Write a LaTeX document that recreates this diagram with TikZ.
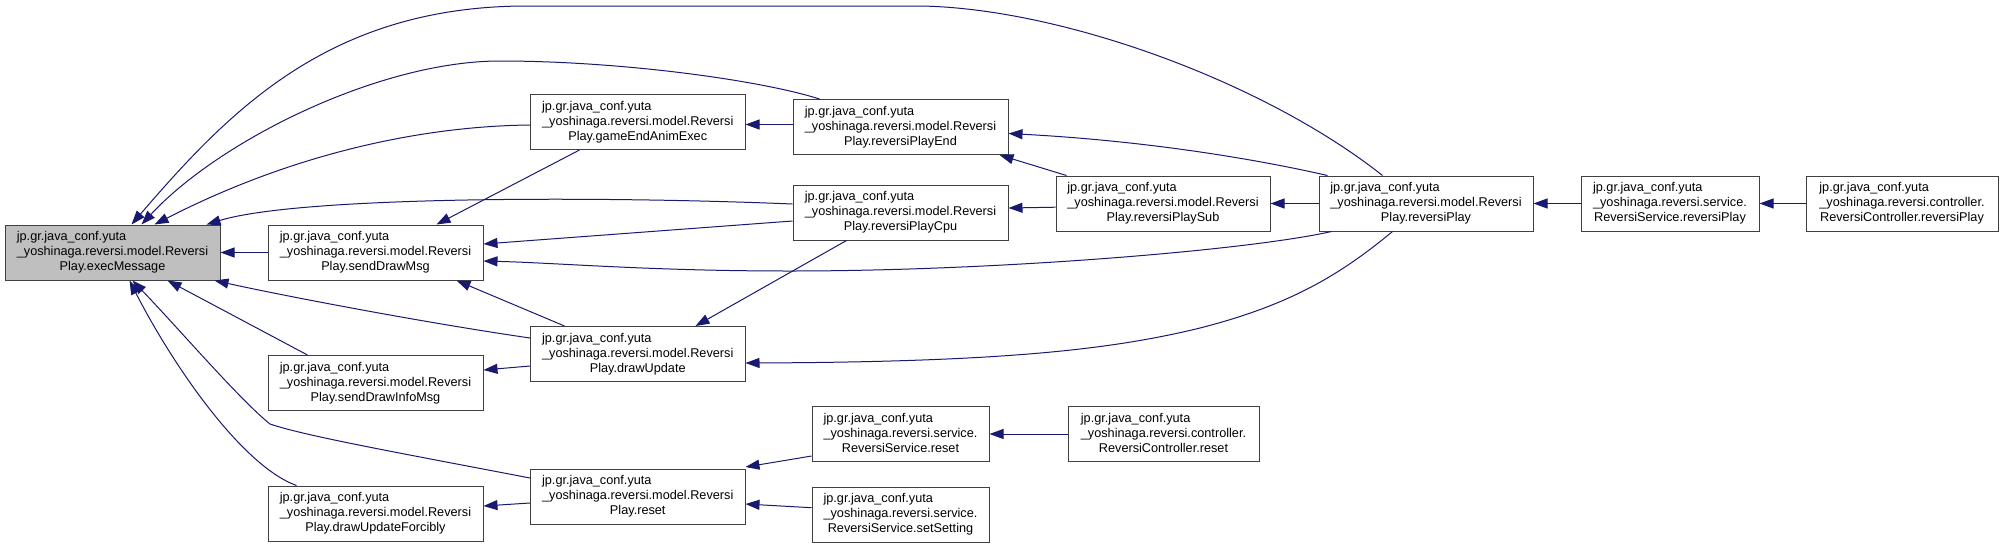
\documentclass[tikz,border=0pt]{standalone}
\usepackage{fontspec}
\setmainfont{Liberation Sans}
\usetikzlibrary{arrows.meta,calc}
\definecolor{edgecol}{HTML}{191970}
\definecolor{boxgray}{HTML}{BFBFBF}
\definecolor{boxline}{HTML}{404040}
\newcommand{\mylbl}[2]{\begin{tabular}{@{}l@{}}jp.gr.java\_conf.yuta\\\_yoshinaga.reversi.#1\\\multicolumn{1}{@{}c@{}}{#2}\end{tabular}}
\tikzset{
  fn/.style={draw=boxline, line width=1pt, fill=white, minimum height=55pt, inner sep=0pt,
    font=\fontsize{12.7}{15}\selectfont},
  edge/.style={draw=edgecol, line width=1pt, -{Triangle[length=14pt,width=10pt,fill=edgecol]}}
}
\begin{document}
\begin{tikzpicture}[x=1pt,y=-1pt]
\fill[white] (0,0) rectangle (2003,547);
\useasboundingbox (0,0) rectangle (2003,547);

% nodes
\node[fn, fill=boxgray, minimum width=215pt] (eM)   at (112.5,252.5) {\mylbl{model.Reversi}{Play.execMessage}};
\node[fn, minimum width=215pt] (sDM)  at (375.5,252.5) {\mylbl{model.Reversi}{Play.sendDrawMsg}};
\node[fn, minimum width=215pt] (sDIM) at (375.5,383)   {\mylbl{model.Reversi}{Play.sendDrawInfoMsg}};
\node[fn, minimum width=215pt] (dUF)  at (375.5,513.5) {\mylbl{model.Reversi}{Play.drawUpdateForcibly}};
\node[fn, minimum width=214.5pt] (gEAE) at (637.75,122) {\mylbl{model.Reversi}{Play.gameEndAnimExec}};
\node[fn, minimum width=214.5pt] (dU)   at (637.75,354) {\mylbl{model.Reversi}{Play.drawUpdate}};
\node[fn, minimum width=214.5pt] (rst)  at (637.75,496.5) {\mylbl{model.Reversi}{Play.reset}};
\node[fn, minimum width=215pt] (rPE)  at (900.5,127)   {\mylbl{model.Reversi}{Play.reversiPlayEnd}};
\node[fn, minimum width=215pt] (rPC)  at (900.5,212.5) {\mylbl{model.Reversi}{Play.reversiPlayCpu}};
\node[fn, minimum width=177pt] (RSr)  at (900.5,434)   {\mylbl{service.}{ReversiService.reset}};
\node[fn, minimum width=177pt] (RSs)  at (900.5,514.5) {\mylbl{service.}{ReversiService.setSetting}};
\node[fn, minimum width=214pt] (rPS)  at (1163,203.5)  {\mylbl{model.Reversi}{Play.reversiPlaySub}};
\node[fn, minimum width=191pt] (RCr)  at (1163.5,434)  {\mylbl{controller.}{ReversiController.reset}};
\node[fn, minimum width=214pt] (rP)   at (1426,203.5)  {\mylbl{model.Reversi}{Play.reversiPlay}};
\node[fn, minimum width=178pt] (RSrP) at (1670,203.5)  {\mylbl{service.}{ReversiService.reversiPlay}};
\node[fn, minimum width=192pt] (RCrP) at (1902,203.5)  {\mylbl{controller.}{ReversiController.reversiPlay}};

% edges into execMessage
\draw[edge] ($(rP.north west)+(64,0)$) .. controls (1263,81) and (1060,8) .. (920,6) -- (527,6) .. controls (330,6) and (230,110) .. ($(eM.north west)+(127,0)$);
\draw[edge] ($(rPE.north west)+(27,0)$) .. controls (760,80) and (620,61) .. (500,61) .. controls (380,61) and (220,140) .. ($(eM.north west)+(137,0)$);
\draw[edge] ($(gEAE.west)+(0,3)$) .. controls (430,126) and (300,150) .. ($(eM.north west)+(150,0)$);
\draw[edge] ($(rPC.west)+(0,-8.5)$) .. controls (600,196) and (300,196) .. ($(eM.north west)+(202,0)$);
\draw[edge] (sDM.west) -- (eM.east);
\draw[edge] ($(dU.west)+(0,-16)$) .. controls (420,322) and (280,295) .. ($(eM.south west)+(210,0)$);
\draw[edge] ($(sDIM.north west)+(40,0)$) -- ($(eM.south west)+(163,0)$);
\draw[edge] ($(rst.west)+(0,-18.5)$) .. controls (400,453) and (305,436) .. (270,424) .. controls (240,400) and (180,330) .. ($(eM.south west)+(128,0)$);
\draw[edge] ($(dUF.north west)+(29,0)$) .. controls (240,465) and (170,360) .. ($(eM.south west)+(125,0)$);

% edges into sendDrawMsg
\draw[edge] ($(gEAE.south west)+(49.5,0)$) -- ($(sDM.north west)+(169,0)$);
\draw[edge] ($(rPC.west)+(0,8.5)$) -- ($(sDM.east)+(0,-8.5)$);
\draw[edge] ($(rP.south west)+(13,0)$) .. controls (1250,250) and (1000,271) .. (790,271) .. controls (650,271) and (560,263) .. ($(sDM.east)+(0,8.5)$);
\draw[edge] ($(dU.north west)+(34.5,0)$) -- ($(sDM.south west)+(189,0)$);

% others
\draw[edge] ($(dU.west)+(0,12)$) -- ($(sDIM.east)+(0,-13)$);
\draw[edge] ($(rst.west)+(0,6.5)$) -- ($(dUF.east)+(0,-7.5)$);
\draw[edge] ($(rPE.west)+(0,-2.5)$) -- ($(gEAE.east)+(0,2.5)$);
\draw[edge] ($(rPC.south west)+(54,0)$) -- ($(dU.north west)+(165.5,0)$);
\draw[edge] ($(rP.south west)+(74,0)$) .. controls (1340,275) and (1290,305) .. (1200,328) .. controls (1110,350) and (1000,362) .. ($(dU.east)+(0,9)$);
\draw[edge] ($(RSr.west)+(0,22)$) -- ($(rst.east)+(0,-29.5)$);
\draw[edge] ($(RSs.west)+(0,-6.8)$) -- ($(rst.east)+(0,7.5)$);
\draw[edge] ($(rPS.north west)+(11,0)$) -- ($(rPE.south west)+(207,0)$);
\draw[edge] ($(rP.north west)+(9,0)$) .. controls (1260,160) and (1150,141) .. ($(rPE.east)+(0,6.5)$);
\draw[edge] ($(rPS.west)+(0,3.7)$) -- ($(rPC.east)+(0,-4.5)$);
\draw[edge] (rP.west) -- (rPS.east);
\draw[edge] (RCr.west) -- (RSr.east);
\draw[edge] (RSrP.west) -- (rP.east);
\draw[edge] (RCrP.west) -- (RSrP.east);
\end{tikzpicture}
\end{document}
